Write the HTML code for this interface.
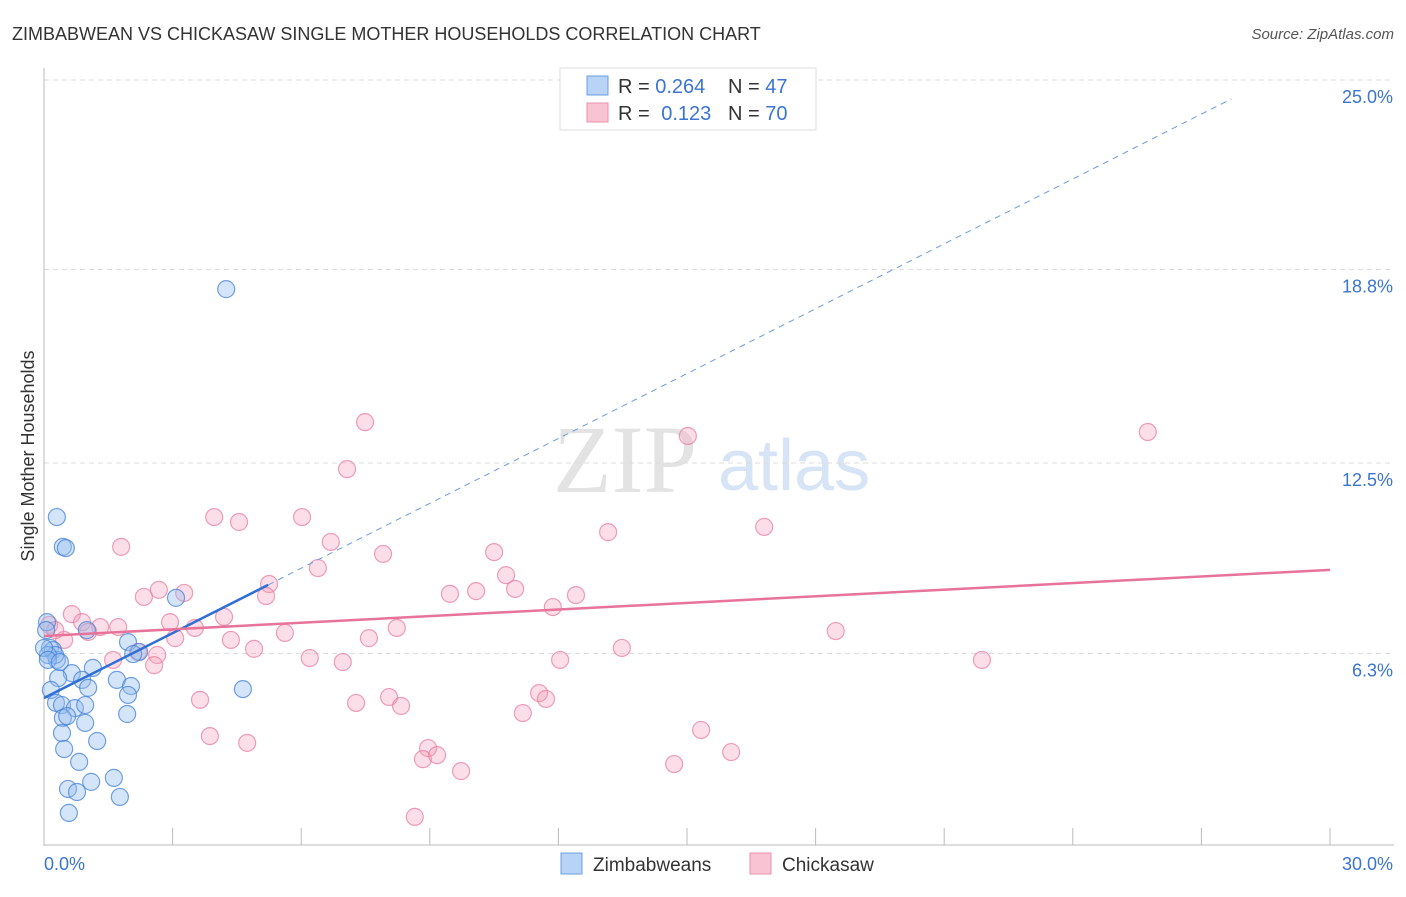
<!DOCTYPE html>
<html><head><meta charset="utf-8"><style>
body{margin:0;background:#fff;font-family:"Liberation Sans",sans-serif}
svg text{font-family:"Liberation Sans",sans-serif}
</style></head><body>
<svg id="c" width="1406" height="892" xmlns="http://www.w3.org/2000/svg">
<text x="12" y="40" font-size="18" fill="#333">ZIMBABWEAN VS CHICKASAW SINGLE MOTHER HOUSEHOLDS CORRELATION CHART</text>
<text x="1394" y="39" font-size="15" fill="#555" text-anchor="end" font-style="italic">Source: ZipAtlas.com</text>
<g>
<text x="553" y="492" font-size="96" font-family="Liberation Serif" fill="#e3e3e3" style="font-family:'Liberation Serif',serif">ZIP</text>
<text x="718" y="490" font-size="72" fill="#d6e4f5">atlas</text>
</g>
<g id="grid"></g>
<g id="axes"></g>
<g id="pts"></g>
<g id="lines"></g>
<text transform="translate(34,456) rotate(-90)" font-size="18" fill="#333" text-anchor="middle">Single Mother Households</text>
<g>
<rect x="560" y="68" width="256" height="62" fill="#fff" stroke="#ddd"/>
<rect x="587" y="76" width="21" height="19" fill="#b8d3f5" stroke="#6a9ee0"/>
<rect x="587" y="103" width="21" height="19" fill="#f8c4d4" stroke="#ec8fac"/>
<text x="618" y="93" font-size="20" fill="#333">R = <tspan fill="#3b74d1">0.264</tspan></text>
<text x="728" y="93" font-size="20" fill="#333">N = <tspan fill="#3b74d1">47</tspan></text>
<text x="618" y="120" font-size="20" fill="#333">R = <tspan fill="#3b74d1" dx="6">0.123</tspan></text>
<text x="728" y="120" font-size="20" fill="#333">N = <tspan fill="#3b74d1">70</tspan></text>
</g>
<g>
<rect x="561" y="853" width="21" height="21" fill="#b8d3f5" stroke="#6a9ee0"/>
<text x="593" y="871" font-size="19" fill="#333">Zimbabweans</text>
<rect x="750" y="853" width="21" height="21" fill="#f8c4d4" stroke="#ec8fac"/>
<text x="782" y="871" font-size="19" fill="#333">Chickasaw</text>
</g>
</svg>
<script>
const blueX=[4.25,0.30,0.44,0.51,0.07,0.14,0.21,0.30,0.26,0.09,3.08,1.00,1.96,2.22,1.14,0.65,0.89,1.03,0.33,0.16,1.70,2.03,1.96,4.64,0.28,0.42,0.72,0.96,0.44,0.54,1.94,0.96,0.42,1.24,0.47,0.82,1.63,1.10,0.56,0.77,1.77,0.58,0.00,0.09,0.05,0.37,2.08];
const blueY=[18.16,10.74,9.77,9.73,7.32,6.48,6.41,6.09,6.25,6.25,8.11,7.06,6.67,6.35,5.83,5.66,5.44,5.18,5.50,5.11,5.44,5.24,4.95,5.14,4.69,4.62,4.52,4.62,4.20,4.26,4.33,4.04,3.71,3.45,3.19,2.77,2.25,2.12,1.89,1.79,1.63,1.11,6.48,6.09,7.06,6.02,6.28];
const pinkX=[13.34,7.49,15.02,25.75,7.07,3.97,4.55,6.02,16.80,13.16,1.80,6.69,7.91,10.50,6.39,10.78,2.68,3.27,2.33,5.25,5.18,9.47,10.08,10.99,12.41,11.87,0.65,0.89,4.20,2.94,1.31,1.73,3.52,1.03,18.47,8.23,0.47,5.62,4.36,3.06,7.58,0.12,4.90,13.48,2.64,1.61,6.20,6.97,12.04,21.88,2.57,2.19,3.64,7.28,8.05,8.33,11.55,11.71,11.17,15.33,3.87,4.74,16.03,8.96,8.84,9.17,9.73,14.70,8.65,0.26];
const pinkY=[23.76,13.83,13.38,13.51,12.30,10.74,10.58,10.74,10.42,10.25,9.77,9.93,9.54,9.60,9.08,8.85,8.37,8.27,8.14,8.56,8.17,8.24,8.33,8.40,8.20,7.81,7.58,7.32,7.49,7.32,7.16,7.16,7.13,7.00,7.03,7.13,6.74,6.97,6.74,6.80,6.80,7.23,6.45,6.48,6.25,6.09,6.15,6.02,6.09,6.09,5.92,6.35,4.79,4.69,4.88,4.59,5.01,4.82,4.36,3.81,3.61,3.39,3.09,3.22,2.86,2.99,2.47,2.70,0.98,7.06];
const yTicks=[6.3,12.5,18.8,25.0];
const yTickLabels=["6.3%","12.5%","18.8%","25.0%"];
const xTicks=[0,3,6,9,12,15,18,21,24,27,30];
const blueFit=[4.85,0.704]; // intercept, slope
const blueSolidEnd=5.23, blueDashEnd=27.7;
const pinkFit=[6.87,0.0717];
const X=v=>44+v*1286/30;
const Y=v=>847-v*30.72;
const NS="http://www.w3.org/2000/svg";
function mk(tag,attrs,parent){const e=document.createElementNS(NS,tag);for(const k in attrs)e.setAttribute(k,attrs[k]);parent.appendChild(e);return e;}
const grid=document.getElementById('grid'),axes=document.getElementById('axes'),pts=document.getElementById('pts'),lines=document.getElementById('lines');
yTicks.forEach((t,i)=>{
 const gy=i==3?80:Y(t);
 const l=mk('line',{x1:44,x2:1394,y1:gy,y2:gy,stroke:'#ddd','stroke-dasharray':'5,4'},grid);
 
 
 const tx=mk('text',{x:1393,y:gy+23,'font-size':18,fill:'#3b74d1','text-anchor':'end'},axes);
 tx.textContent=yTickLabels[i];
 
 
});
const ya=mk('line',{x1:44,x2:44,y1:68,y2:846,stroke:'#bbb'},axes);


const xa=mk('line',{x1:44,x2:1394,y1:845,y2:845,stroke:'#bbb'},axes);


xTicks.forEach(t=>{
 const tk=mk('line',{x1:X(t),x2:X(t),y1:828,y2:845,stroke:'#bbb'},axes);
 
 
});
const xl0=mk('text',{x:44,y:870,'font-size':18,fill:'#3b74d1'},axes);xl0.textContent='0.0%';


const xl1=mk('text',{x:1393,y:870,'font-size':18,fill:'#3b74d1','text-anchor':'end'},axes);xl1.textContent='30.0%';


pinkX.forEach((v,i)=>{
 const c=mk('circle',{cx:X(v),cy:Y(pinkY[i]),r:8.5,fill:'rgba(244,160,186,0.35)',stroke:'rgba(232,120,155,0.7)','stroke-width':1.2},pts);
 
 
});
blueX.forEach((v,i)=>{
 const c=mk('circle',{cx:X(v),cy:Y(blueY[i]),r:8.5,fill:'rgba(150,190,240,0.4)',stroke:'rgba(70,130,215,0.75)','stroke-width':1.2},pts);
 
 
});
const bf=x=>blueFit[0]+blueFit[1]*x, pf=x=>pinkFit[0]+pinkFit[1]*x;
const bl=mk('line',{x1:X(0),y1:Y(bf(0)),x2:X(blueSolidEnd),y2:Y(bf(blueSolidEnd)),stroke:'#2f6fd6','stroke-width':2.5},lines);


const bd=mk('line',{x1:X(blueSolidEnd),y1:Y(bf(blueSolidEnd)),x2:X(blueDashEnd),y2:Y(bf(blueDashEnd)),stroke:'#6b9be0','stroke-width':1,'stroke-dasharray':'6,5'},lines);


const pl=mk('line',{x1:X(0),y1:Y(pf(0)),x2:X(30),y2:Y(pf(30)),stroke:'#e8739a','stroke-width':2.5},lines);


</script>
</body></html>
